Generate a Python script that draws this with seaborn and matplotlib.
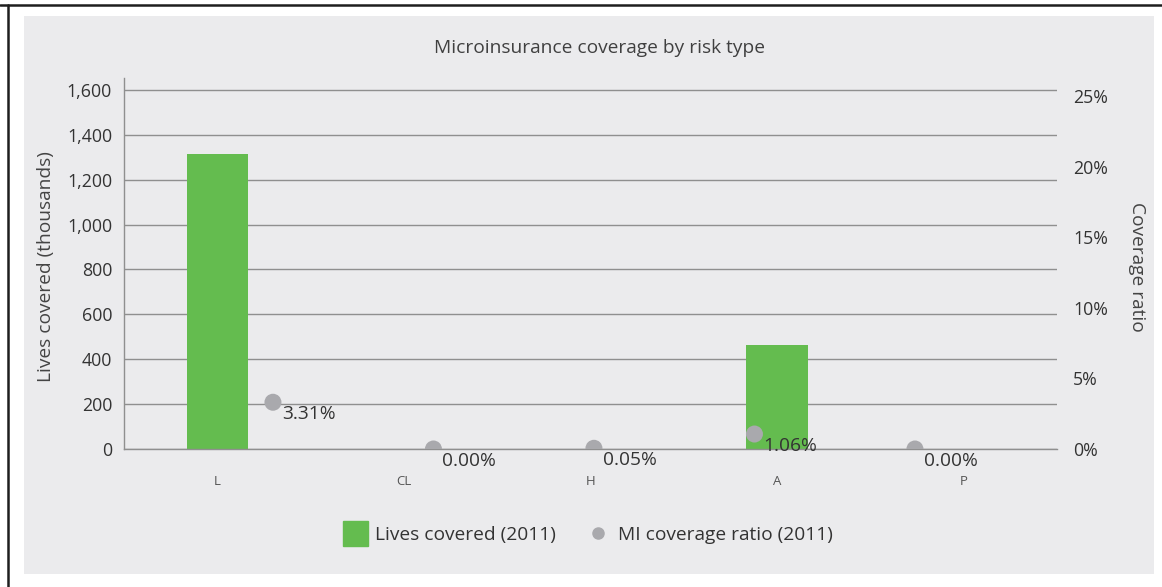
import numpy as np
import pandas as pd
import matplotlib
matplotlib.use("Agg")
import matplotlib.pyplot as plt
import seaborn as sns
from matplotlib.patches import Rectangle
from matplotlib.lines import Line2D
from matplotlib.ticker import FuncFormatter, FixedLocator

# Data
risk_types = ["L", "CL", "H", "A", "P"]
lives_covered = [1315, 0, 0, 465, 0]          # thousands of lives, 2011
coverage_ratio = [3.31, 0.00, 0.05, 1.06, 0.00]  # MI coverage ratio (%), 2011
left_ticks = [0, 200, 400, 600, 800, 1000, 1200, 1400, 1600]
right_ticks = [0, 5, 10, 15, 20, 25]

GREEN = "#64bc4f"
DOT = "#a9a9ad"
GRID = "#8f8f8f"
TEXT = "#333333"

sns.set_style("white")
plt.rcParams["font.family"] = ["Open Sans", "DejaVu Sans"]

W, H = 1162, 587
fig = plt.figure(figsize=(W / 100, H / 100), dpi=100)
fig.patch.set_facecolor("white")

# light grey card behind the chart
fig.patches.append(Rectangle((24 / W, (H - 574) / H), (1154 - 24) / W, (574 - 16) / H,
                             transform=fig.transFigure, facecolor="#ebebed",
                             edgecolor="none", zorder=-10))
# dark frame lines along the top and left
fig.add_artist(Line2D([0, 1], [1 - 5 / H, 1 - 5 / H], transform=fig.transFigure,
                      color="#1e1e1e", lw=1.8))
fig.add_artist(Line2D([8 / W, 8 / W], [0, 1 - 5 / H], transform=fig.transFigure,
                      color="#1e1e1e", lw=1.8))

df = pd.DataFrame({"risk": risk_types, "lives": lives_covered, "ratio": coverage_ratio})

rect = [124 / W, (H - 449) / H, (1057 - 124) / W, (449 - 78) / H]

# primary axis: bars
ax = fig.add_axes(rect)
ax.set_facecolor("none")
sns.barplot(data=df, x="risk", y="lives", color=GREEN, width=0.33, saturation=1,
            linewidth=0, ax=ax, zorder=2)
ax.set_xlim(-0.5, 4.5)
ax.set_ylim(0, 1653)
ax.set_yticks(left_ticks)
ax.yaxis.set_major_formatter(FuncFormatter(lambda v, p: f"{v:,.0f}"))
ax.yaxis.grid(True, color=GRID, lw=1.0)
ax.xaxis.grid(False)
ax.set_axisbelow(True)
for s in ["top", "right"]:
    ax.spines[s].set_visible(False)
for s in ["left", "bottom"]:
    ax.spines[s].set_color(GRID)
    ax.spines[s].set_linewidth(1.0)
ax.tick_params(axis="y", length=0, pad=8.6, labelsize=12.8, labelcolor=TEXT)
ax.tick_params(axis="x", which="major", length=0, pad=19, labelsize=9.5, labelcolor="#555555")
ax.xaxis.set_minor_locator(FixedLocator([0.5, 1.5, 2.5, 3.5, 4.5]))
ax.tick_params(axis="x", which="minor", direction="in", length=4.3, width=1.0, color=GRID)
ax.set_xlabel("")
ax.set_ylabel("")

# secondary axis: coverage ratio dots
ax2 = fig.add_axes(rect, label="ratio")
ax2.set_facecolor("none")
sns.scatterplot(data=df, x="risk", y="ratio", ax=ax2, s=150, color=DOT,
                edgecolor="none", zorder=3, legend=False)
ax2.set_xlim(-0.928, 4.885)
ax2.set_ylim(0, 26.27)
ax2.set_yticks(right_ticks)
ax2.yaxis.set_major_formatter(FuncFormatter(lambda v, p: f"{v:.0f}%"))
ax2.yaxis.tick_right()
ax2.tick_params(axis="y", length=0, pad=11.5, labelsize=12.8, labelcolor=TEXT)
ax2.xaxis.set_visible(False)
ax2.grid(False)
for s in ax2.spines.values():
    s.set_visible(False)
ax2.set_xlabel("")
ax2.set_ylabel("")

for i, v in enumerate(coverage_ratio):
    ax2.annotate(f"{v:.2f}%", (i, v), xytext=(6.5, -8.6), textcoords="offset points",
                 ha="left", va="center", fontsize=13.8, color=TEXT)

# titles and axis labels
fig.text(600 / W, 1 - 48 / H, "Microinsurance coverage by risk type", ha="center",
         va="center", fontsize=13.8, color="#404040")
fig.text(46 / W, 1 - 267 / H, "Lives covered (thousands)", rotation=90, ha="center",
         va="center", fontsize=13.8, color="#444444")
fig.text(1137 / W, 1 - 267 / H, "Coverage ratio", rotation=270, ha="center",
         va="center", fontsize=13.8, color="#444444")

handles = [
    Line2D([], [], marker="s", ls="none", color=GREEN, markersize=18,
           label="Lives covered (2011)"),
    Line2D([], [], marker="o", ls="none", color=DOT, markersize=8,
           label="MI coverage ratio (2011)"),
]
fig.legend(handles=handles, loc="center", bbox_to_anchor=(589 / W, (H - 535) / H),
           ncol=2, frameon=False, fontsize=13.8, handlelength=1.0, handletextpad=0.55,
           columnspacing=1.7, labelcolor=TEXT)

fig.savefig("out.png", dpi=100)
